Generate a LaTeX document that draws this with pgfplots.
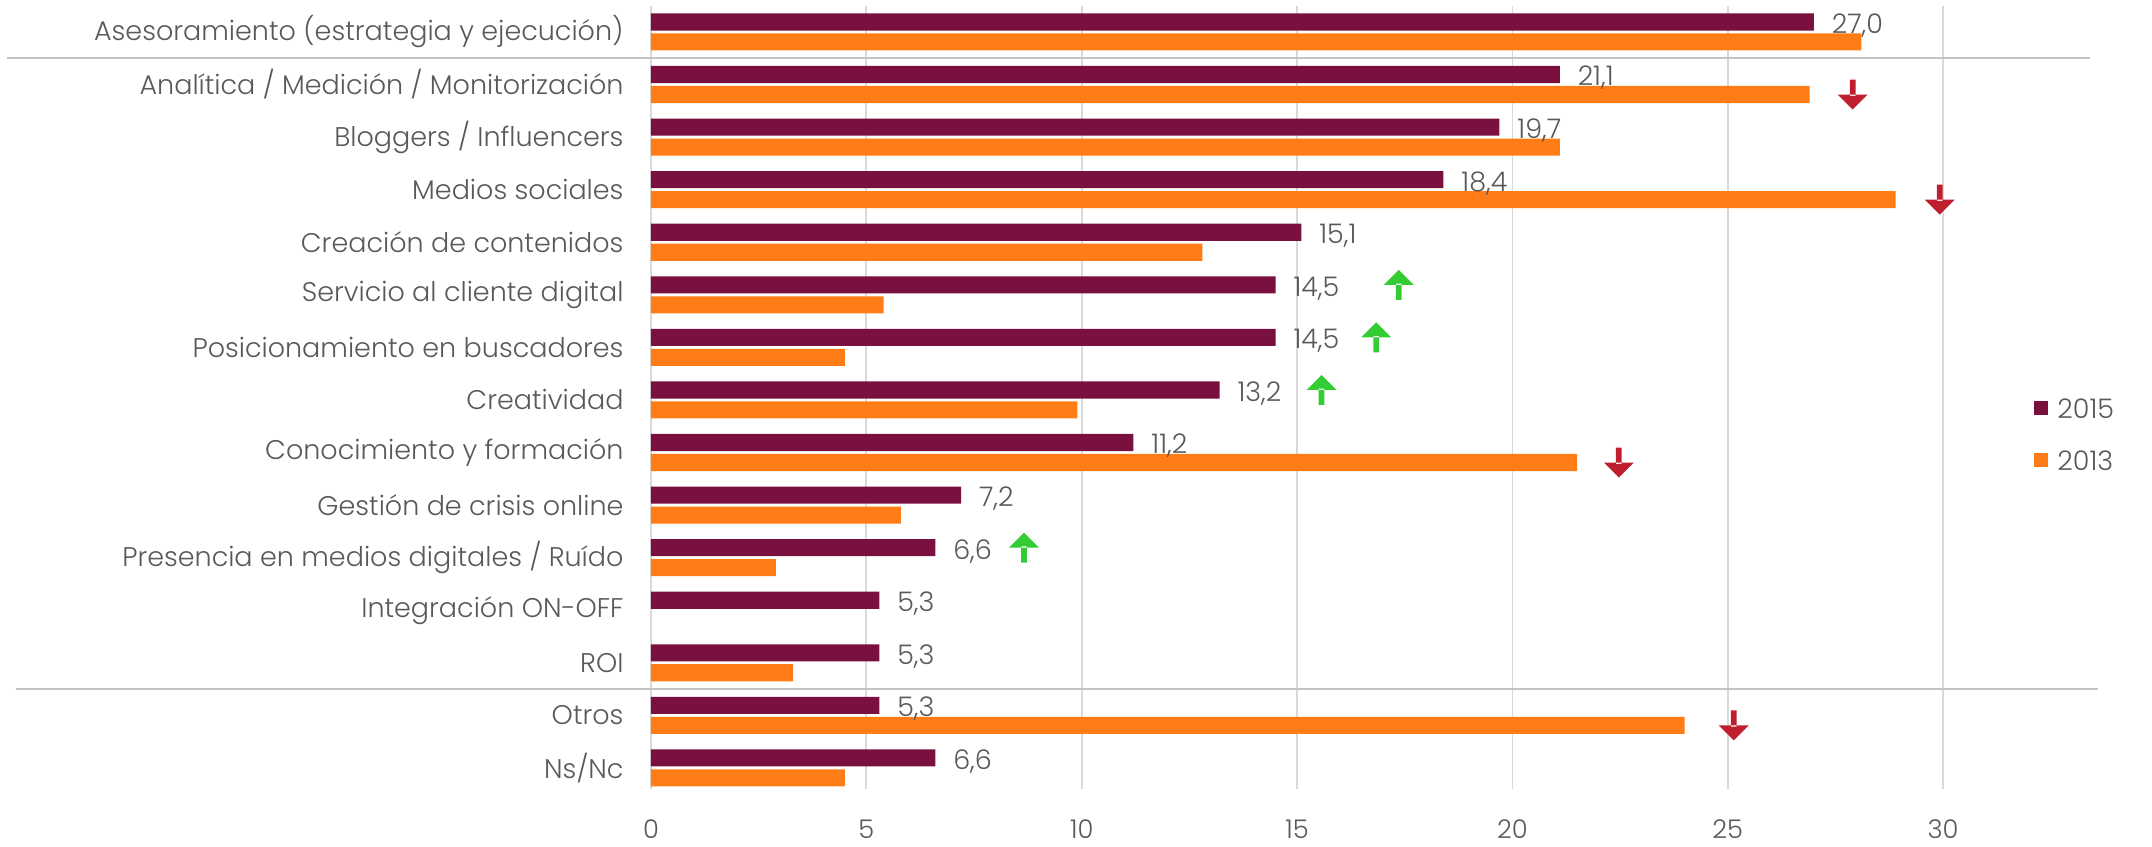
\documentclass[border=0pt]{standalone}
\usepackage{fontspec}
\setmainfont{Poppins}[UprightFont=* Light]
\usepackage{pgfplots}
\pgfplotsset{compat=1.18}

\definecolor{c2015}{HTML}{7A1040}
\definecolor{c2013}{HTML}{FF7C16}
\definecolor{arrowred}{HTML}{BE1E2D}
\definecolor{arrowgreen}{HTML}{33CC33}
\definecolor{txt}{HTML}{595959}
\definecolor{gridc}{HTML}{D9D9D9}
\definecolor{sepc}{HTML}{C4C4C4}

% trend arrows used as plot marks
\pgfdeclareplotmark{arrowdown}{%
  \pgfpathrectanglecorners{\pgfpoint{-1.15pt}{-0.5pt}}{\pgfpoint{1.15pt}{6pt}}%
  \pgfpathmoveto{\pgfpoint{-6pt}{0pt}}%
  \pgfpathlineto{\pgfpoint{6pt}{0pt}}%
  \pgfpathlineto{\pgfpoint{0pt}{-6pt}}%
  \pgfpathclose
  \pgfusepathqfill}
\pgfdeclareplotmark{arrowup}{%
  \pgfpathrectanglecorners{\pgfpoint{-1.15pt}{0.5pt}}{\pgfpoint{1.15pt}{-6pt}}%
  \pgfpathmoveto{\pgfpoint{-6pt}{0pt}}%
  \pgfpathlineto{\pgfpoint{6pt}{0pt}}%
  \pgfpathlineto{\pgfpoint{0pt}{6pt}}%
  \pgfpathclose
  \pgfusepathqfill}

\newcommand{\lblfont}{\fontsize{10.8}{13}\selectfont}
\newcommand{\tickfont}{\fontsize{10.3}{12}\selectfont}

\begin{document}
\begin{tikzpicture}
\begin{axis}[
  name=ax,
  x=17.228pt, y=21.028pt, y dir=reverse,
  xmin=0, xmax=33.5, ymin=-0.49, ymax=14.4,
  clip=false,
  axis line style={draw=none},
  major tick length=0pt,
  xmajorgrids,
  grid style={gridc, line width=0.7pt},
  xtick={0,5,...,30},
  ytick={0,...,14},
  yticklabels={
    Asesoramiento (estrategia y ejecución),
    Analítica / Medición / Monitorización,
    Bloggers / Influencers,
    Medios sociales,
    Creación de contenidos,
    Servicio al cliente digital,
    Posicionamiento en buscadores,
    Creatividad,
    Conocimiento y formación,
    Gestión de crisis online,
    Presencia en medios digitales / Ruído,
    Integración ON-OFF,
    ROI,
    Otros,
    Ns/Nc},
  ticklabel style={text=txt},
  yticklabel style={font=\lblfont, anchor=east, inner sep=0pt, xshift=-10.8pt},
  xticklabel style={font=\tickfont, anchor=center, inner sep=0pt, text height=7.2pt,
    text depth=0pt, yshift=-16.2pt},
  /pgf/number format/assume math mode=true,
  legend style={at={(axis cs:32.11,7.65)}, anchor=west, draw=none, fill=none,
    inner sep=0pt, outer sep=0pt, font=\lblfont, text=txt,
    nodes={inner sep=0pt, text height=8pt, text depth=0pt},
    row sep=12.8pt},
  legend cell align=left,
]

% 2015
\addplot[xbar, bar width=0.325, bar shift=-0.19, fill=c2015, draw=none,
  legend image code/.code={\fill[c2015] (0pt,-2.8pt) rectangle (5.6pt,2.8pt);
    \path (9.4pt,0pt);}]
  coordinates {(27.0,0) (21.1,1) (19.7,2) (18.4,3) (15.1,4) (14.5,5) (14.5,6)
    (13.2,7) (11.2,8) (7.2,9) (6.6,10) (5.3,11) (5.3,12) (5.3,13) (6.6,14)};
\addlegendentry{2015}

% 2013
\addplot[xbar, bar width=0.325, bar shift=0.19, fill=c2013, draw=none,
  legend image code/.code={\fill[c2013] (0pt,-2.8pt) rectangle (5.6pt,2.8pt);
    \path (9.4pt,0pt);}]
  coordinates {(28.1,0) (26.9,1) (21.1,2) (28.9,3) (12.8,4) (5.4,5) (4.5,6)
    (9.9,7) (21.5,8) (5.8,9) (2.9,10) (3.3,12) (24.0,13) (4.5,14)};
\addlegendentry{2013}

% value labels for 2015, set above both bar series
\addplot[xbar, bar width=0.325, bar shift=-0.19, draw=none, fill=none, forget plot,
  point meta=x,
  nodes near coords={\pgfmathprintnumber[fixed, fixed zerofill, precision=1,
    use comma, assume math mode=true]{\pgfplotspointmeta}},
  nodes near coords style={font=\lblfont, text=txt, inner sep=0pt,
    xshift=7pt, yshift=2.6pt}]
  coordinates {(27.0,0) (21.1,1) (19.7,2) (18.4,3) (15.1,4) (14.5,5) (14.5,6)
    (13.2,7) (11.2,8) (7.2,9) (6.6,10) (5.3,11) (5.3,12) (5.3,13) (6.6,14)};

% decreases
\addplot[only marks, mark=arrowdown, color=arrowred, forget plot]
  coordinates {(27.9,1.19) (29.92,3.19) (22.47,8.19) (25.14,13.19)};
% increases
\addplot[only marks, mark=arrowup, color=arrowgreen, forget plot]
  coordinates {(17.36,4.81) (16.84,5.81) (15.57,6.81) (8.66,9.81)};

% group separators
\draw[sepc, line width=0.7pt] (axis cs:-14.95,0.5) -- (axis cs:33.4,0.5);
\draw[sepc, line width=0.7pt] (axis cs:-14.75,12.5) -- (axis cs:33.6,12.5);
\end{axis}
\pgfresetboundingbox
\path (ax.north west) ++(-260.4pt,2.48pt) rectangle ++(860.8pt,-338.8pt);
\end{tikzpicture}
\end{document}
